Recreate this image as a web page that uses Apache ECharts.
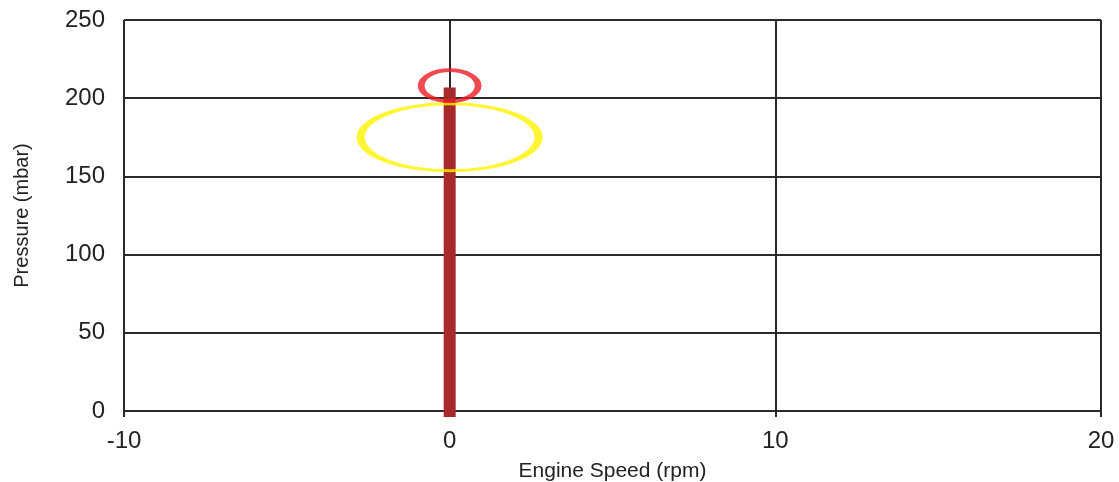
<!DOCTYPE html>
<html>
<head>
<meta charset="utf-8">
<script src="https://cdn.jsdelivr.net/npm/echarts@6/dist/echarts.min.js"></script>
<style>
html,body{margin:0;padding:0;background:#fff;}
#c{width:1119px;height:482px;}
</style>
</head>
<body>
<div id="c"></div>
<script>
// Data
var xTicks = [-10, 0, 10, 20];
var yTicks = [0, 50, 100, 150, 200, 250];
var speedValues = [0, 0];          // Engine Speed (rpm)
var pressureValues = [0, 203];     // Pressure (mbar)
var redMarkX = [0];
var redMarkY = [208];
var yellowMarkX = [0];
var yellowMarkY = [175];

var ellipsePath = 'path://M0,50 A50,50 0 1,1 100,50 A50,50 0 1,1 0,50 Z';

function pairs(xs, ys) {
  return xs.map(function (x, i) { return [x, ys[i]]; });
}

var font = 'Liberation Sans, Arial, sans-serif';
var lineCol = '#2a2a2a';

var chart = echarts.init(document.getElementById('c'), null, {renderer: 'canvas'});
chart.setOption({
  animation: false,
  backgroundColor: '#ffffff',
  grid: {left: 124, right: 18, top: 20, bottom: 71, containLabel: false, outerBoundsMode: 'none'},
  xAxis: {
    type: 'value',
    min: xTicks[0],
    max: xTicks[xTicks.length - 1],
    interval: xTicks[1] - xTicks[0],
    name: 'Engine Speed (rpm)',
    nameLocation: 'middle',
    nameGap: 50,
    nameTextStyle: {fontFamily: font, fontSize: 21, color: '#222'},
    axisLine: {show: true, onZero: false, lineStyle: {color: lineCol, width: 2}},
    axisTick: {show: true, length: 6, lineStyle: {color: lineCol, width: 2}},
    axisLabel: {fontFamily: font, fontSize: 24, color: '#222', margin: 18},
    splitLine: {show: true, lineStyle: {color: lineCol, width: 2}}
  },
  yAxis: {
    type: 'value',
    min: yTicks[0],
    max: yTicks[yTicks.length - 1],
    interval: yTicks[1] - yTicks[0],
    name: 'Pressure (mbar)',
    nameLocation: 'middle',
    nameGap: 92,
    nameRotate: 90,
    nameTextStyle: {fontFamily: font, fontSize: 20, color: '#222'},
    axisLine: {show: true, lineStyle: {color: lineCol, width: 2}},
    axisTick: {show: true, length: 12, lineStyle: {color: lineCol, width: 2}},
    axisLabel: {fontFamily: font, fontSize: 24, color: '#222', margin: 19},
    splitLine: {show: true, lineStyle: {color: lineCol, width: 2}}
  },
  series: [
    {
      type: 'line',
      data: pairs(speedValues, pressureValues),
      showSymbol: false,
      symbol: 'none',
      lineStyle: {color: '#A52A2A', width: 12, cap: 'square'},
      z: 3
    },
    {
      type: 'scatter',
      data: pairs(yellowMarkX, yellowMarkY),
      symbol: ellipsePath,
      symbolSize: [178, 67],
      itemStyle: {color: 'rgba(0,0,0,0)', borderColor: '#FFF200', borderWidth: 5},
      z: 4
    },
    {
      type: 'scatter',
      data: pairs(redMarkX, redMarkY),
      symbol: ellipsePath,
      symbolSize: [57, 31],
      itemStyle: {color: 'rgba(0,0,0,0)', borderColor: '#ED1C24', borderWidth: 5},
      z: 5
    }
  ]
});
</script>
</body>
</html>
